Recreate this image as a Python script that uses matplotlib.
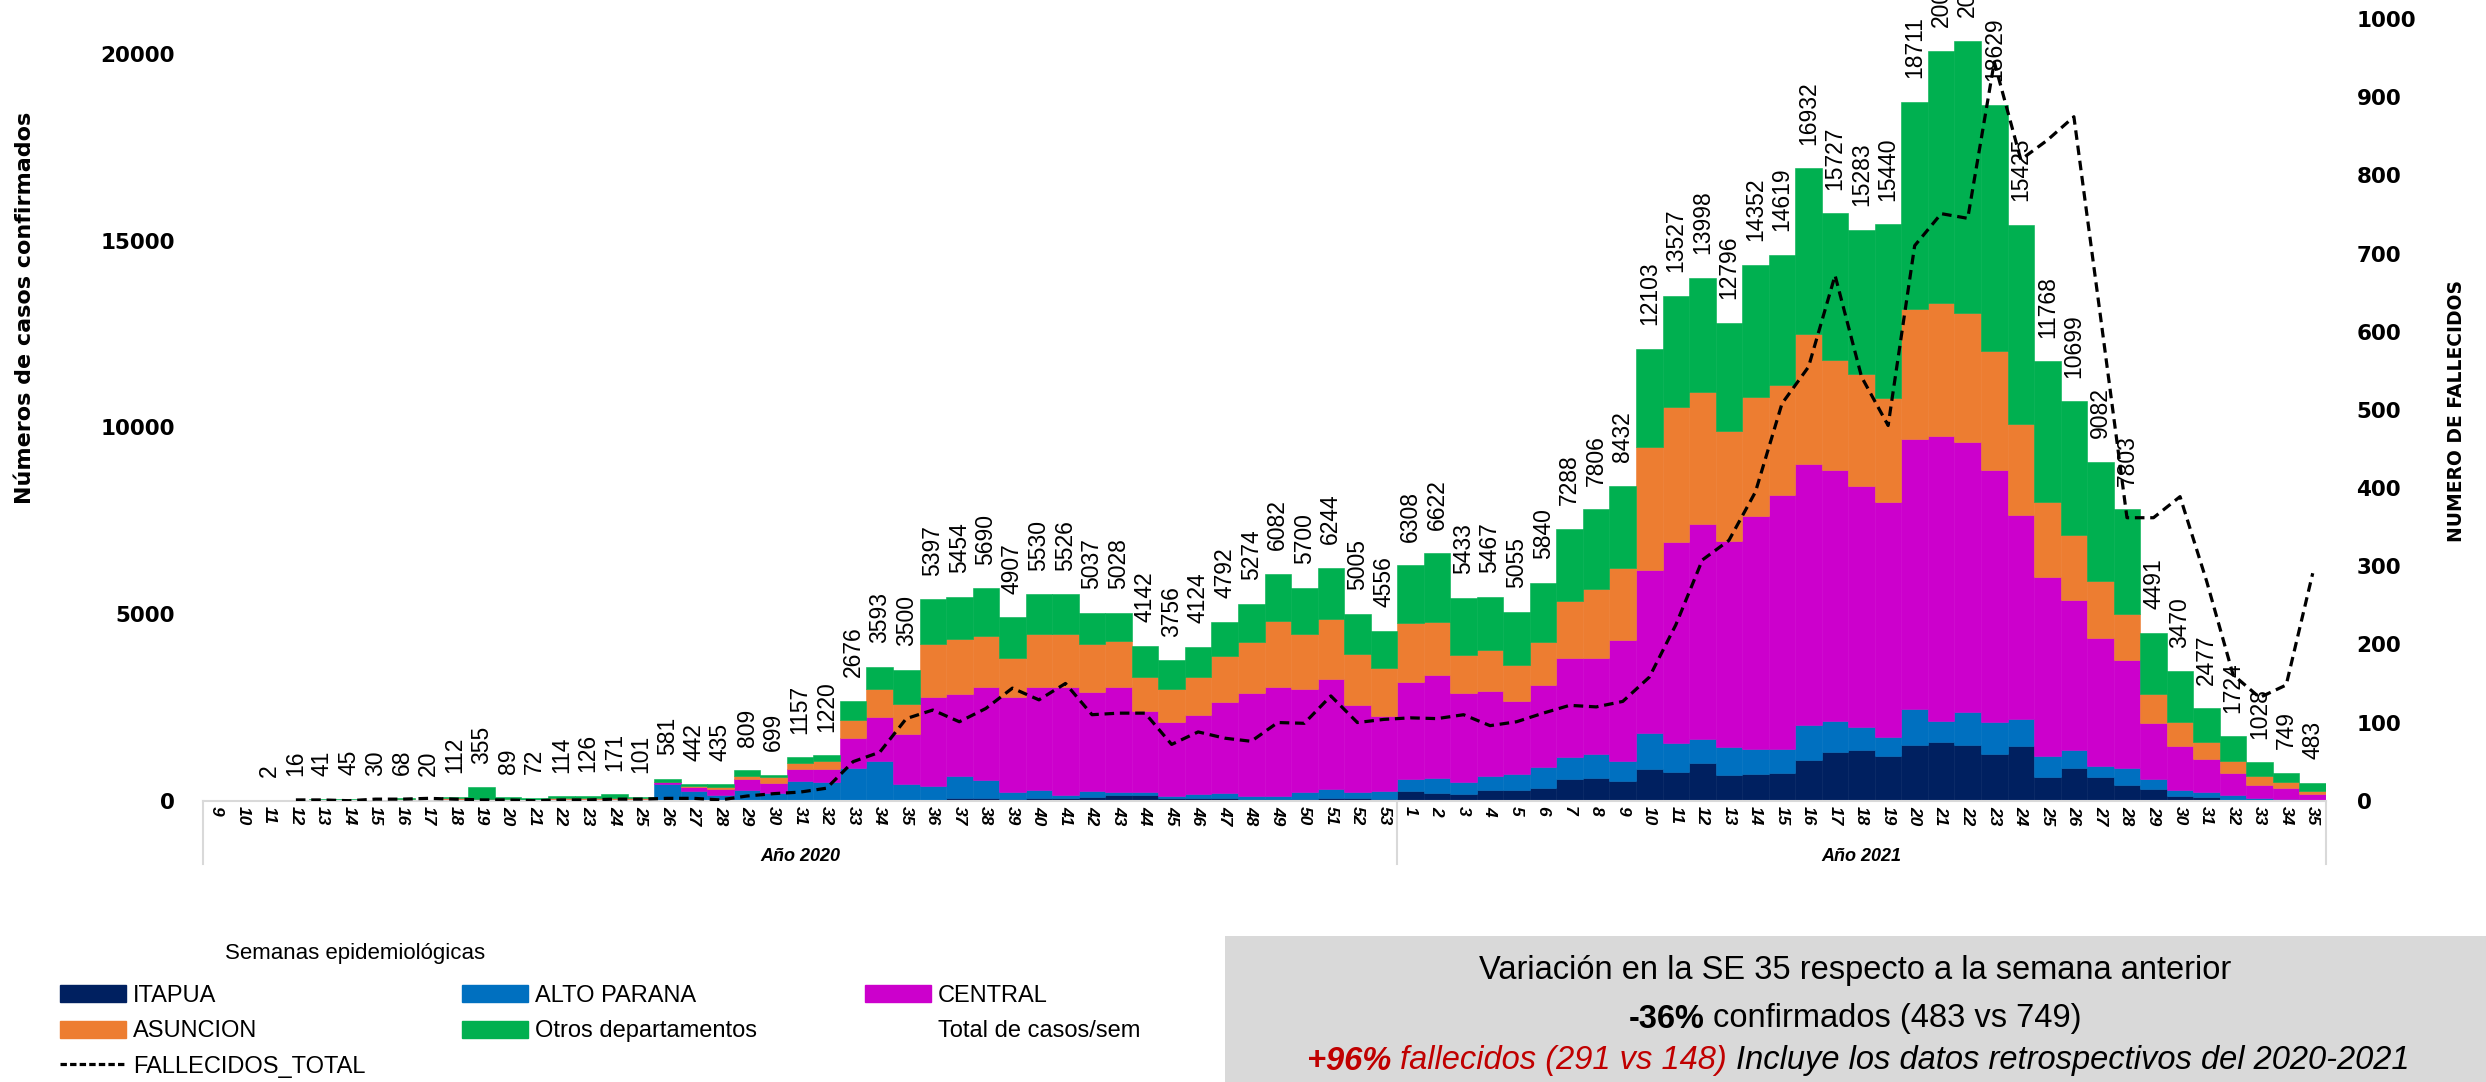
import numpy as np
import matplotlib
matplotlib.use("Agg")
import matplotlib.pyplot as plt
from matplotlib.patches import Rectangle, Patch
from matplotlib.lines import Line2D
from matplotlib.transforms import blended_transform_factory

# ==============================
# DATA (semanas epidemiologicas 2020 SE 9-53, 2021 SE 1-35)
# ==============================
semanas_2020 = [str(s) for s in range(9, 54)]
semanas_2021 = [str(s) for s in range(1, 36)]

itapua = [
    0, 0, 0, 0, 0, 0, 0, 0, 0, 0,
    0, 0, 0, 0, 0, 0, 0,
    0, 0, 0, 0, 0, 0, 0,
    10, 15, 10, 15, 80, 63, 45, 80, 60, 107, 150, 150, 60, 60, 70, 50, 40, 50, 80, 60, 45,
    268, 197, 170, 286, 286, 331, 572, 599, 527,
    849, 760, 1001, 688, 706, 733, 1100, 1310, 1370, 1207,
    1493, 1565, 1493, 1258, 1466, 644, 867, 626, 420, 313,
    134, 89, 30, 20, 10, 8,
]
alto_parana = [
    0, 0, 0, 0, 0, 0, 0, 0, 0, 5,
    20, 0, 0, 5, 5, 10, 15,
    440, 260, 140, 290, 200, 520, 490,
    857, 1049, 437, 378, 582, 500, 179, 206, 92, 152, 90, 90, 74, 110, 127, 84, 85, 174, 233, 164, 214,
    313, 420, 340, 376, 429, 581, 608, 644, 546,
    957, 778, 644, 742, 671, 644, 915, 820, 600, 509,
    966, 563, 876, 846, 718, 563, 492, 313, 456, 268,
    152, 135, 110, 50, 32, 20,
]
central = [
    0, 0, 1, 5, 10, 12, 8, 20, 5, 30,
    25, 20, 15, 45, 40, 45, 25,
    60, 100, 170, 300, 280, 330, 350,
    805, 1171, 1332, 2396, 2199, 2494, 2565, 2771, 2905, 2664, 2817, 2165, 1985, 2128, 2440, 2763, 2932, 2771, 2941, 2342, 2012,
    2593, 2736, 2387, 2288, 1958, 2190, 2637, 2574, 3227,
    4363, 5382, 5765, 5534, 6240, 6821, 7010, 6720, 6465, 6285,
    7214, 7634, 7241, 6747, 5466, 4783, 4023, 3424, 2897, 1502,
    1189, 894, 590, 351, 309, 141,
]
asuncion = [
    0, 0, 1, 8, 18, 18, 10, 25, 8, 35,
    10, 15, 12, 20, 20, 20, 25,
    10, 30, 50, 80, 150, 170, 215,
    491, 751, 822, 1413, 1475, 1341, 1028, 1404, 1404, 1279, 1207, 921, 876, 1028, 1243, 1341, 1744, 1466, 1609, 1368, 1278,
    1582, 1430, 1010, 1091, 948, 1136, 1538, 1860, 1931,
    3301, 3620, 3540, 2936, 3193, 2922, 3482, 2942, 2981, 2779,
    3505, 3559, 3442, 3199, 2425, 2011, 1725, 1511, 1233, 767,
    626, 447, 324, 253, 141, 84,
]
otros = [
    0, 0, 0, 3, 13, 15, 12, 23, 7, 42,
    300, 54, 45, 44, 61, 96, 36,
    71, 52, 75, 139, 69, 137, 165,
    513, 607, 899, 1195, 1118, 1292, 1090, 1069, 1065, 835, 764, 816, 761, 798, 912, 1036, 1281, 1239, 1381, 1071, 1007,
    1552, 1839, 1526, 1426, 1434, 1602, 1933, 2129, 2201,
    2633, 2987, 3048, 2896, 3542, 3499, 4425, 3935, 3867, 4660,
    5533, 6767, 7304, 6579, 5350, 3767, 3592, 3208, 2797, 1641,
    1369, 912, 670, 354, 257, 230,
]
total_casos = [
    0, 0, 2, 16, 41, 45, 30, 68, 20, 112,
    355, 89, 72, 114, 126, 171, 101,
    581, 442, 435, 809, 699, 1157, 1220,
    2676, 3593, 3500, 5397, 5454, 5690, 4907, 5530, 5526, 5037, 5028, 4142, 3756, 4124, 4792, 5274, 6082, 5700, 6244, 5005, 4556,
    6308, 6622, 5433, 5467, 5055, 5840, 7288, 7806, 8432,
    12103, 13527, 13998, 12796, 14352, 14619, 16932, 15727, 15283, 15440,
    18711, 20088, 20356, 18629, 15425, 11768, 10699, 9082, 7803, 4491,
    3470, 2477, 1724, 1028, 749, 483,
]
fallecidos = [
    np.nan, np.nan, np.nan, 1, 1, 0, 2, 2, 3, 2,
    1, 1, 0, 1, 1, 2, 2,
    3, 3, 1, 6, 9, 11, 16,
    50, 62, 105, 116, 101, 118, 144, 129, 150, 110, 112, 112, 72, 88, 80, 76, 100, 99, 134, 100, 104,
    106, 105, 110, 96, 101, 112, 122, 120, 127,
    158, 225, 308, 333, 395, 508, 555, 672, 542, 480,
    710, 751, 745, 945, 820, 845, 875, 620, 362, 362,
    389, 281, 161, 132, 148, 291,
]

series = [
    ("ITAPUA", itapua, "#002060"),
    ("ALTO PARANA", alto_parana, "#0070C0"),
    ("CENTRAL", central, "#CC00CC"),
    ("ASUNCION", asuncion, "#ED7D31"),
    ("Otros departamentos", otros, "#00B050"),
]

semanas = semanas_2020 + semanas_2021
x = np.arange(len(semanas))

# ==============================
# FIGURE
# ==============================
W, H = 2486, 1082
fig = plt.figure(figsize=(W / 100, H / 100), dpi=100)
ax = fig.add_axes([203 / W, 1 - 800.7 / H, 2123 / W, 781.7 / H])

bottom = np.zeros(len(x))
bars = {}
for name, vals, color in series:
    vals = np.array(vals, dtype=float)
    bars[name] = ax.bar(x, vals, width=1.0, bottom=bottom, color=color,
                        edgecolor=color, linewidth=0.4, label=name)
    bottom += vals

labels = [str(v) if v > 0 else "" for v in total_casos]
ax.bar_label(bars["Otros departamentos"], labels=labels, padding=17,
             rotation=90, fontsize=16.5, family="Liberation Sans")

ax.set_xlim(-0.5, len(x) - 0.5)
ax.set_ylim(0, 20934)
ax.set_yticks([0, 5000, 10000, 15000, 20000])
ax.tick_params(axis="y", length=0, pad=20, labelsize=15.5)
for t in ax.get_yticklabels():
    t.set_fontweight("bold")

ax.set_xticks(x)
ax.set_xticklabels(semanas, rotation=-90, fontsize=12.5, fontweight="bold",
                   fontstyle="italic", family="Liberation Sans")
ax.tick_params(axis="x", length=0, pad=4)

for s in ["top", "left", "right"]:
    ax.spines[s].set_visible(False)
ax.spines["bottom"].set_color("#D9D9D9")
ax.spines["bottom"].set_linewidth(1.5)

# multi-level category separators and year labels
trans = blended_transform_factory(ax.transData, ax.transAxes)
for xs in [-0.5, len(semanas_2020) - 0.5, len(x) - 0.5]:
    ax.plot([xs, xs], [0, -0.081], color="#D9D9D9", lw=1.5,
            transform=trans, clip_on=False)
ax.text((len(semanas_2020) - 1) / 2, -0.072, "Año 2020", transform=trans,
        ha="center", va="center", fontsize=13, fontweight="bold",
        fontstyle="italic", family="Liberation Sans")
ax.text(len(semanas_2020) + (len(semanas_2021) - 1) / 2, -0.072, "Año 2021",
        transform=trans, ha="center", va="center", fontsize=13,
        fontweight="bold", fontstyle="italic", family="Liberation Sans")

# ==============================
# DEATHS (secondary axis)
# ==============================
ax2 = ax.twinx()
ax2.plot(x, fallecidos, color="black", lw=2.3, ls=(0, (3, 1.8)))
ax2.set_ylim(0, 1000)
ax2.set_yticks(range(0, 1001, 100))
ax2.tick_params(axis="y", length=0, pad=22, labelsize=15.5)
for t in ax2.get_yticklabels():
    t.set_fontweight("bold")
for s in ax2.spines.values():
    s.set_visible(False)

fig.text(25 / W, 1 - 308 / H, "Números de casos confirmados", rotation=90,
         ha="center", va="center", fontsize=16, fontweight="bold")
fig.text(2456 / W, 1 - 411 / H, "NUMERO DE FALLECIDOS", rotation=90,
         ha="center", va="center", fontsize=13.5, fontweight="bold")

# ==============================
# LEGEND
# ==============================
fig.text(225 / W, 1 - 953 / H, "Semanas epidemiológicas", ha="left",
         va="center", fontsize=16, family="Liberation Sans")

def patch(c):
    return Patch(facecolor=c, edgecolor=c)

cols = [
    ([patch("#002060"), patch("#ED7D31"),
      Line2D([], [], color="black", lw=2.3, ls=(0, (2, 1)))],
     ["ITAPUA", "ASUNCION", "FALLECIDOS_TOTAL"], 60),
    ([patch("#0070C0"), patch("#00B050")],
     ["ALTO PARANA", "Otros departamentos"], 462),
    ([patch("#CC00CC"), Patch(facecolor="none", edgecolor="none")],
     ["CENTRAL", "Total de casos/sem"], 865),
]
for handles, names, xl in cols:
    fig.legend(handles, names, loc="upper left",
               bbox_to_anchor=(xl / W, 1 - 985 / H), frameon=False,
               borderpad=0, borderaxespad=0, handlelength=2.8,
               handleheight=0.75, handletextpad=0.3, labelspacing=0.57,
               prop={"family": "Liberation Sans", "size": 17})

# ==============================
# NOTE BOX
# ==============================
fig.add_artist(Rectangle((1225 / W, 0), 1 - 1225 / W, (H - 936) / H,
                         transform=fig.transFigure, facecolor="#D9D9D9",
                         edgecolor="none", zorder=0))

renderer = fig.canvas.get_renderer()
box_font = ["Liberation Sans Narrow", "Liberation Sans"]


def rich_line(xc, yc, parts, size):
    texts = []
    for s, kw in parts:
        texts.append(fig.text(0, 1 - yc / H, s, va="center", ha="left",
                              fontsize=size, family=box_font, **kw))
    gap = size * 0.27 * 100 / 72
    widths = [t.get_window_extent(renderer).width for t in texts]
    total = sum(widths) + gap * (len(texts) - 1)
    xpos = xc - total / 2
    for t, w in zip(texts, widths):
        t.set_x(xpos / W)
        xpos += w + gap


rich_line(1855, 970, [("Variación en la SE 35 respecto a la semana anterior", {})], 23.5)
rich_line(1855, 1019, [("-36%", {"fontweight": "bold"}),
                       ("confirmados (483 vs 749)", {})], 23.5)
rich_line(1858, 1061, [("+96%", {"fontweight": "bold", "fontstyle": "italic", "color": "#C00000"}),
                       ("fallecidos (291 vs 148)", {"fontstyle": "italic", "color": "#C00000"}),
                       ("Incluye los datos retrospectivos del 2020-2021", {"fontstyle": "italic"})], 23.5)

plt.savefig("out.png", dpi=100)
plt.close()
